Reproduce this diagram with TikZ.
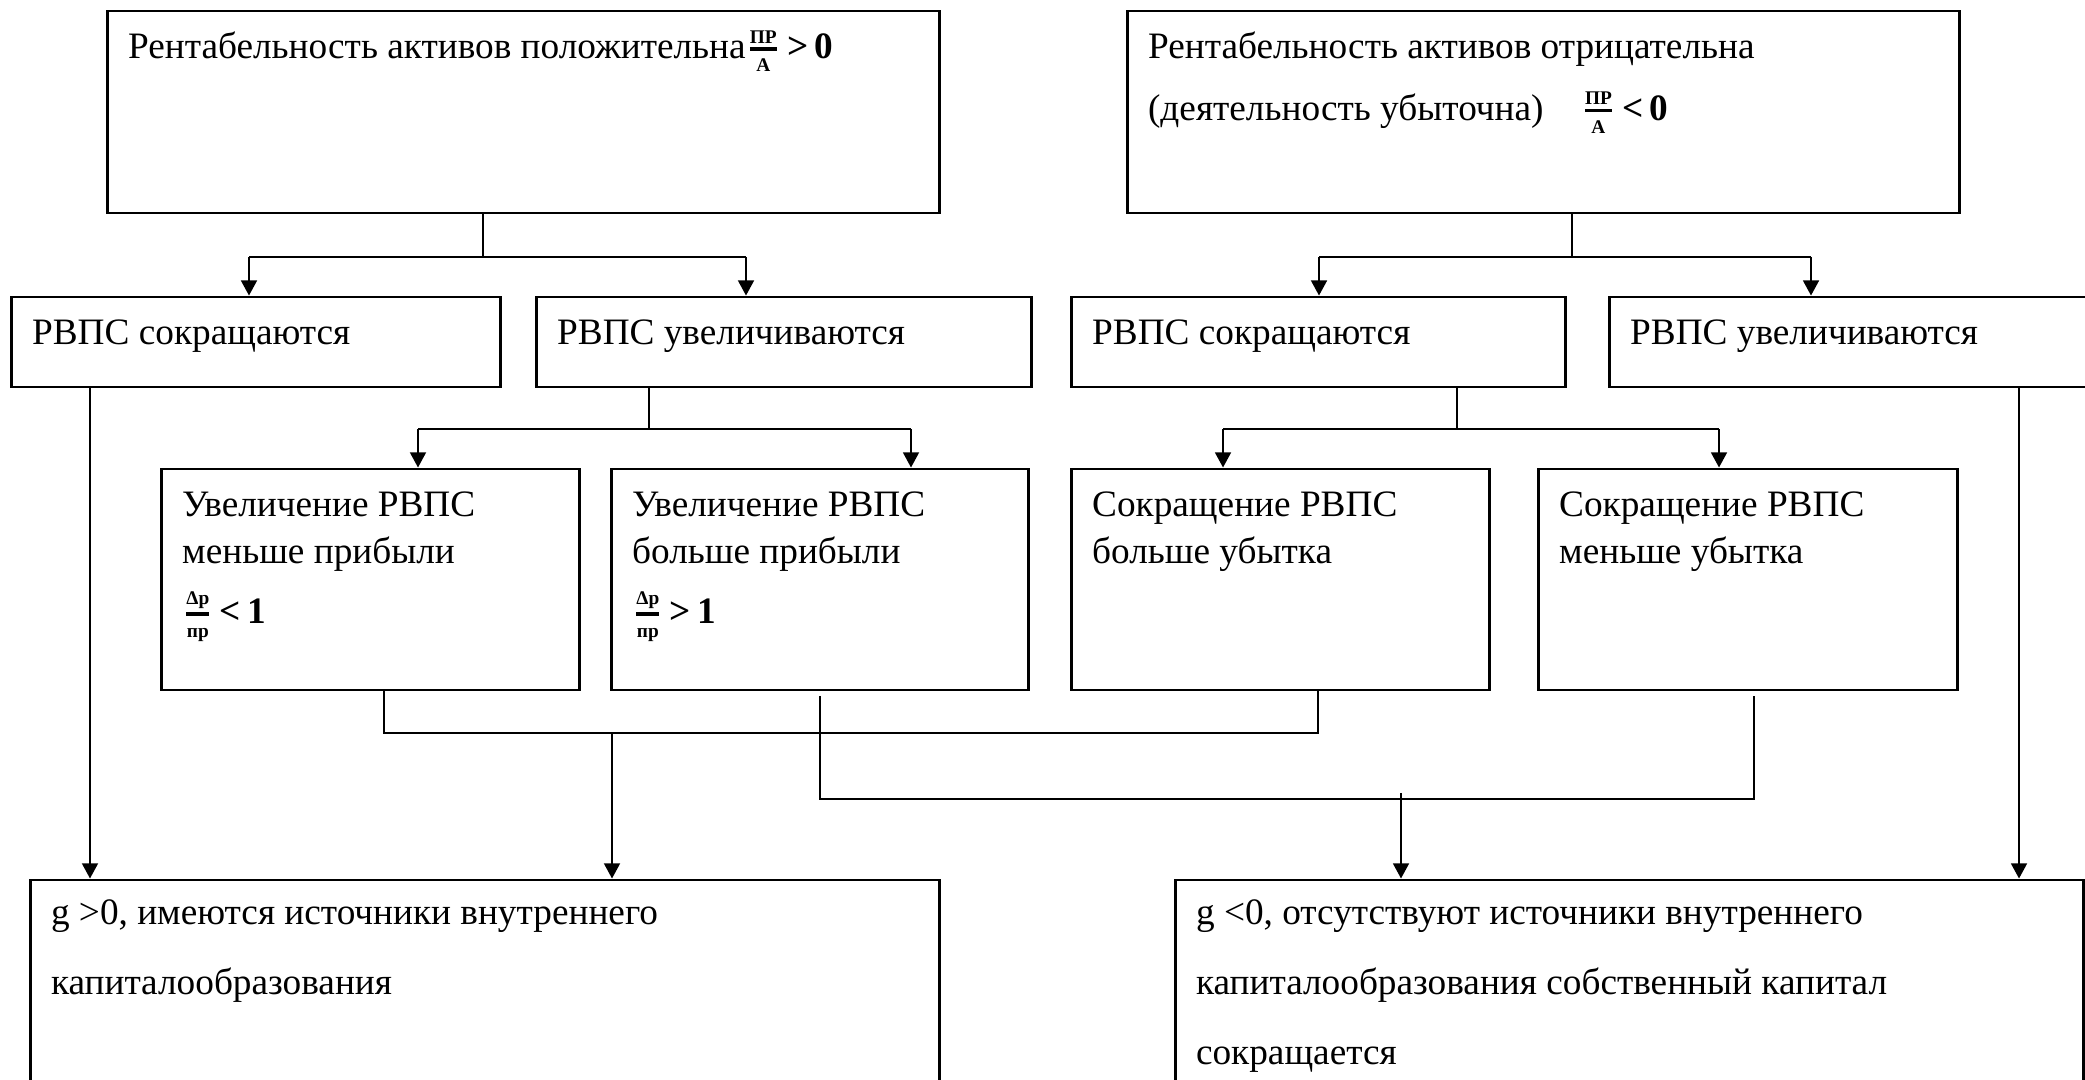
\documentclass[tikz,border=0pt]{standalone}
\usepackage{amsmath}
\usepackage{fontspec}
\setmainfont{Liberation Serif}
\usetikzlibrary{arrows.meta}

\newcommand{\ratio}[2]{\ensuremath{\genfrac{}{}{1.1pt}{}{\mbox{\fontsize{5.5}{6}\selectfont\bfseries #1}}{\mbox{\fontsize{5.5}{6}\selectfont\bfseries #2}}}}
\newcommand{\lns}[1]{\begin{tabular}[t]{@{}l@{}}#1\end{tabular}}

\tikzset{
  blk/.style={draw, line width=0.8pt, inner sep=0pt},
  txt/.style={anchor=base west, inner sep=0pt, font=\fontsize{10.6}{13.5}\selectfont},
  wide/.style={txt, font=\fontsize{10.6}{19.9}\selectfont},
  link/.style={line width=0.6pt},
  arr/.style={link, -{Triangle[width=4.5pt,length=4.3pt]}}
}

\begin{document}
\begin{tikzpicture}[x=0.01cm, y=-0.01cm]
\useasboundingbox (0,0) rectangle (2085,1080);
\clip (0,0) rectangle (2085,1080);

% === Top: sign of the return on assets ===
\node[blk, minimum width=8.31cm, minimum height=2.02cm] (pos) at (523.5,112) {};
\node[blk, minimum width=8.31cm, minimum height=2.02cm] (neg) at (1543.5,112) {};
\node[txt] (postx) at ([shift={(21,49)}]pos.north west)
  {Рентабельность активов положительна\ratio{ПР}{А}\,\textbf{>\,0}};
\node[txt] (negtx) at ([shift={(21,49)}]neg.north west)
  {\lns{Рентабельность активов отрицательна\\[4pt](деятельность убыточна)\quad\ratio{ПР}{А}\,\textbf{<\,0}}};

% === Second row: what happens to the РВПС ===
\node[blk, minimum width=4.88cm, minimum height=0.9cm] (a1) at (256,342) {};
\node[blk, minimum width=4.94cm, minimum height=0.9cm] (a2) at (784,342) {};
\node[blk, minimum width=4.93cm, minimum height=0.9cm] (a3) at (1318.5,342) {};
\node[blk, minimum width=4.85cm, minimum height=0.9cm] (a4) at (1852.5,342) {};
\node[txt] (a1tx) at ([shift={(21,49)}]a1.north west) {РВПС сокращаются};
\node[txt] (a2tx) at ([shift={(21,49)}]a2.north west) {РВПС увеличиваются};
\node[txt] (a3tx) at ([shift={(21,49)}]a3.north west) {РВПС сокращаются};
\node[txt] (a4tx) at ([shift={(21,49)}]a4.north west) {РВПС увеличиваются};

% === Third row: size of the change ===
\node[blk, minimum width=4.17cm, minimum height=2.21cm] (b1) at (370.5,579.5) {};
\node[blk, minimum width=4.16cm, minimum height=2.21cm] (b2) at (820,579.5) {};
\node[blk, minimum width=4.17cm, minimum height=2.21cm] (b3) at (1280.5,579.5) {};
\node[blk, minimum width=4.18cm, minimum height=2.21cm] (b4) at (1748,579.5) {};
\node[txt] (b1tx) at ([shift={(21,49)}]b1.north west)
  {\lns{Увеличение РВПС\\меньше прибыли\\[3.5pt]\ratio{Δp}{пр}\,\textbf{<\,1}}};
\node[txt] (b2tx) at ([shift={(21,49)}]b2.north west)
  {\lns{Увеличение РВПС\\больше прибыли\\[3.5pt]\ratio{Δp}{пр}\,\textbf{>\,1}}};
\node[txt] (b3tx) at ([shift={(21,49)}]b3.north west) {\lns{Сокращение РВПС\\больше убытка}};
\node[txt] (b4tx) at ([shift={(21,49)}]b4.north west) {\lns{Сокращение РВПС\\меньше убытка}};

% === Bottom: result for g ===
\node[blk, minimum width=9.08cm, minimum height=2.15cm] (c1) at (485,987.5) {};
\node[blk, minimum width=9.07cm, minimum height=2.15cm] (c2) at (1629.5,987.5) {};
\node[wide] (c1tx) at ([shift={(21,46)}]c1.north west)
  {\lns{g >0, имеются источники внутреннего\\капиталообразования}};
\node[wide] (c2tx) at ([shift={(21,46)}]c2.north west)
  {\lns{g <0, отсутствуют источники внутреннего\\капиталообразования собственный капитал\\сокращается}};

% === Forks from the top boxes ===
\coordinate (pj) at (483,257);
\coordinate (pl) at (249,257);
\coordinate (pr) at (746,257);
\draw[link] (pos.south -| pj) -- (pj);
\draw[link] (pl) -- (pr);
\draw[arr] (pl) -- (pl |- a1.north);
\draw[arr] (pr) -- (pr |- a2.north);

\coordinate (nj) at (1572,257);
\coordinate (nl) at (1319,257);
\coordinate (nr) at (1811,257);
\draw[link] (neg.south -| nj) -- (nj);
\draw[link] (nl) -- (nr);
\draw[arr] (nl) -- (nl |- a3.north);
\draw[arr] (nr) -- (nr |- a4.north);

% === Forks from the second row ===
\coordinate (qj) at (649,429);
\coordinate (ql) at (418,429);
\coordinate (qr) at (911,429);
\draw[link] (a2.south -| qj) -- (qj);
\draw[link] (ql) -- (qr);
\draw[arr] (ql) -- (ql |- b1.north);
\draw[arr] (qr) -- (qr |- b2.north);

\coordinate (sj) at (1457,429);
\coordinate (sl) at (1223,429);
\coordinate (sr) at (1719,429);
\draw[link] (a3.south -| sj) -- (sj);
\draw[link] (sl) -- (sr);
\draw[arr] (sl) -- (sl |- b3.north);
\draw[arr] (sr) -- (sr |- b4.north);

% === Long arrows at the sides ===
\coordinate (ga) at (90,400);
\coordinate (gb) at (2019,400);
\draw[arr] (a1.south -| ga) -- (c1.north -| ga);
\draw[arr] (a4.south -| gb) -- (c2.north -| gb);

% === Joins into the bottom boxes ===
\coordinate (ja) at (384,733);
\coordinate (jb) at (1318,733);
\coordinate (jc) at (612,733);
\draw[link] (b1.south -| ja) -- (ja) -- (jb) -- (b3.south -| jb);
\draw[arr] (jc) -- (c1.north -| jc);

\coordinate (ka) at (820,696);
\coordinate (kb) at (820,799);
\coordinate (kc) at (1754,799);
\coordinate (kd) at (1754,696);
\coordinate (ke) at (1401,793);
\draw[link] (ka) -- (kb) -- (kc) -- (kd);
\draw[arr] (ke) -- (c2.north -| ke);

\end{tikzpicture}
\end{document}
